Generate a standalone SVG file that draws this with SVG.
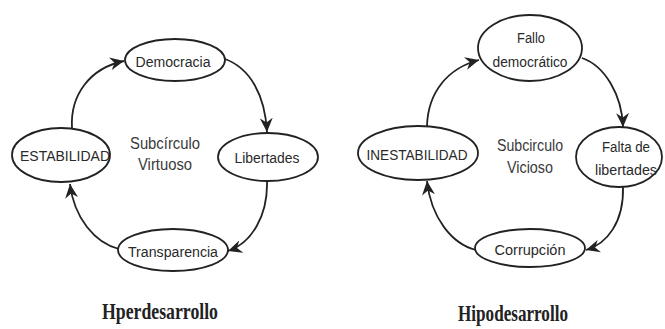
<svg xmlns="http://www.w3.org/2000/svg" width="665" height="329" viewBox="0 0 665 329">
<style>
.node ellipse{fill:#fff;stroke:#222;stroke-width:1.8}
.lbl{font-family:"Liberation Sans",Arial,sans-serif;font-size:15.5px;fill:#2a2a2a;text-anchor:middle}
.mid{font-family:"Liberation Sans",Arial,sans-serif;font-size:16px;fill:#3a3a3a;text-anchor:middle}
.title{font-family:"Liberation Serif","Times New Roman",serif;font-size:24px;font-weight:bold;fill:#222;text-anchor:middle}
.conn path{fill:none;stroke:#222;stroke-width:1.8;marker-end:url(#arr)}
</style>
<defs>
<marker id="arr" markerUnits="userSpaceOnUse" markerWidth="15" markerHeight="13" refX="14" refY="6.5" orient="auto">
<path d="M0,0 L14,6.5 L0,13 L4.5,6.5 Z" fill="#222"/>
</marker>
</defs>
<rect width="665" height="329" fill="#fff"/>
<g id="connectors" class="conn">
<path d="M72,128 C70,95 90,68 124,61"/>
<path d="M225,59 C250,68 265,95 267,132"/>
<path d="M267,181 C268,215 252,243 228,251"/>
<path d="M119,249 C95,243 74,218 70,184"/>
<path d="M427,126 C428,92 448,68 479,60"/>
<path d="M582,58 C605,66 622,95 623,127"/>
<path d="M623,187 C624,222 607,244 586,250"/>
<path d="M476,250 C452,244 431,218 427,181"/>
</g>
<g id="democracia" class="node"><ellipse cx="175" cy="60" rx="50" ry="21"/><text class="lbl" x="173" y="67" textLength="75" lengthAdjust="spacingAndGlyphs">Democracia</text></g>
<g id="estabilidad" class="node"><ellipse cx="61" cy="155" rx="49" ry="27"/><text class="lbl" x="65" y="161" textLength="90" lengthAdjust="spacingAndGlyphs">ESTABILIDAD</text></g>
<g id="libertades" class="node"><ellipse cx="268" cy="157" rx="50" ry="24"/><text class="lbl" x="267" y="163" textLength="65" lengthAdjust="spacingAndGlyphs">Libertades</text></g>
<g id="transparencia" class="node"><ellipse cx="173" cy="250" rx="55" ry="21"/><text class="lbl" x="173" y="257" textLength="90" lengthAdjust="spacingAndGlyphs">Transparencia</text></g>
<g id="virtuoso">
<text class="mid" x="165" y="149" textLength="70" lengthAdjust="spacingAndGlyphs">Subcírculo</text>
<text class="mid" x="165" y="170" textLength="54" lengthAdjust="spacingAndGlyphs">Virtuoso</text>
</g>
<g id="fallo" class="node"><ellipse cx="530" cy="48" rx="52" ry="33"/><text class="lbl" x="531" y="43" textLength="28" lengthAdjust="spacingAndGlyphs">Fallo</text><text class="lbl" x="530" y="67" textLength="75" lengthAdjust="spacingAndGlyphs">democrático</text></g>
<g id="inestabilidad" class="node"><ellipse cx="418" cy="153" rx="60" ry="27"/><text class="lbl" x="417" y="160" textLength="101" lengthAdjust="spacingAndGlyphs">INESTABILIDAD</text></g>
<g id="falta" class="node"><ellipse cx="619" cy="157" rx="43" ry="30"/><text class="lbl" x="626" y="152" textLength="48" lengthAdjust="spacingAndGlyphs">Falta de</text><text class="lbl" x="626" y="175" textLength="62" lengthAdjust="spacingAndGlyphs">libertades</text></g>
<g id="corrupcion" class="node"><ellipse cx="530" cy="248" rx="55" ry="19"/><text class="lbl" x="530" y="255" textLength="71" lengthAdjust="spacingAndGlyphs">Corrupción</text></g>
<g id="vicioso">
<text class="mid" x="530" y="151" textLength="66" lengthAdjust="spacingAndGlyphs">Subcirculo</text>
<text class="mid" x="530" y="173" textLength="46" lengthAdjust="spacingAndGlyphs">Vicioso</text>
</g>
<text class="title" x="160" y="319" textLength="116" lengthAdjust="spacingAndGlyphs">Hperdesarrollo</text>
<text class="title" x="513" y="321" textLength="110" lengthAdjust="spacingAndGlyphs">Hipodesarrollo</text>
</svg>
